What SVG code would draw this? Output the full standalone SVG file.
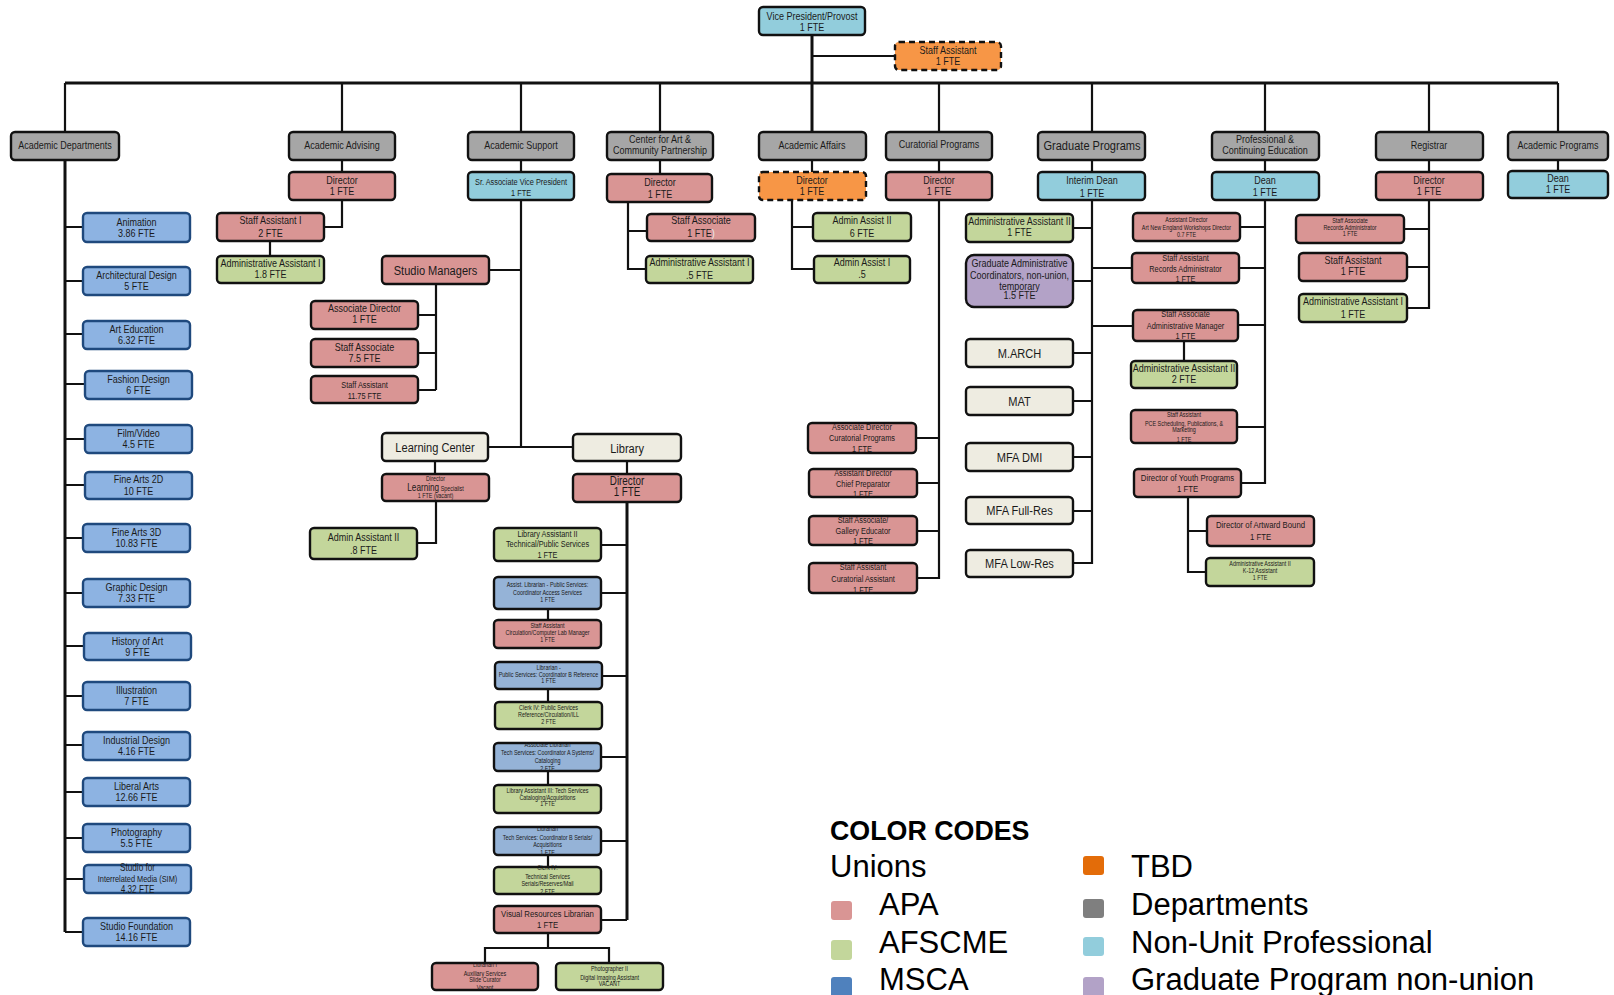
<svg xmlns="http://www.w3.org/2000/svg" width="1614" height="995" viewBox="0 0 1614 995">
<style>
.n rect{stroke:#111;stroke-width:2.4}
.gray{fill:#A6A6A6}.apa{fill:#D99594}.afs{fill:#C3D69B}.msca{fill:#8DB3E2;stroke:#1F497D !important}
.msca2{fill:#95B3D7}.nup{fill:#92CDDC}.tbd{fill:#F79646;stroke-dasharray:6 4}.grad{fill:#B3A2C7}.cream{fill:#EEECE1}
.n text{font-family:"Liberation Sans",Arial,sans-serif;text-anchor:middle;fill:#1a1a1a;transform-box:fill-box;transform-origin:center;transform:scaleX(.82)}
.f11{font-size:11px}.f10{font-size:10px}.f9{font-size:9px}.f95{font-size:9.5px}.f7{font-size:6.6px}.f65{font-size:6.6px}.f12{font-size:12px}.f13{font-size:13.5px}
.lg{font-family:"Liberation Sans",Arial,sans-serif;fill:#000}
.li{font-size:31px}
</style>
<rect width="1614" height="995" fill="#fff"/>
<g id="connectors" fill="none" stroke="#111" stroke-width="2.2">
<path stroke-width="3" d="M812 35V132M65 83H1558M65 160V932M627 502V920"/>
<path d="M812 56H895M65 83V132M342 83V132M521 83V132M660 83V132M939 83V132M1092 83V132M1265 83V132M1429 83V132M1558 83V132"/>
<path d="M342 160V172M521 160V172M660 160V174M812 160V172M939 160V172M1092 160V172M1265 160V172M1429 160V172M1558 160V171"/>
<path d="M65 227H83M65 281H83M65 334H83M65 384H85M65 439H85M65 485H85M65 538H83M65 593H83M65 646H84M65 696H83M65 745H83M65 792H83M65 838H83M65 879H84M65 932H83"/>
<path d="M342 200V227H324M270 241V256"/>
<path d="M521 200V447M489 270H521M436 284V390M436 315H418M436 353H418M436 390H418M488 447H573M435 461V474M436 501V543H417"/>
<path d="M627 461V474M627 545H601M627 593H601M627 676H602M627 757H601M627 841H601M627 920H601M548 609V620M548 689V702M548 771V785M548 855V867M548 933V948M485 963V948H609V963"/>
<path d="M628 202V269H646M628 231H647"/>
<path d="M792 200V269H814M792 227H813"/>
<path d="M939 200V578H917M939 438H916M939 483H917M939 531H917"/>
<path d="M1092 200V563H1073M1092 228H1073M1092 281H1073M1092 353H1073M1092 401H1073M1092 457H1073M1092 511H1073M1092 268H1132M1092 326H1133"/>
<path d="M1265 200V483H1241M1265 227H1240M1265 268H1239M1265 325H1238M1265 427H1237M1184 341V361M1188 497V572H1206M1188 531H1207"/>
<path d="M1429 200V308H1407M1429 229H1404M1429 267H1407"/>
</g>

<g id="vp" class="n"><rect class="nup" x="759" y="7" width="106" height="28" rx="4"/><text class="f11"><tspan x="812" y="20">Vice President/Provost</tspan><tspan x="812" y="31">1 FTE</tspan></text></g>
<g id="vp-staff-assistant" class="n"><rect class="tbd" x="895" y="42" width="106" height="28" rx="4"/><text class="f11"><tspan x="948" y="54">Staff Assistant</tspan><tspan x="948" y="65">1 FTE</tspan></text></g>

<g id="h-acad-dept" class="n"><rect class="gray" x="11" y="132" width="108" height="28" rx="4"/><text class="f11" x="65" y="149">Academic Departments</text></g>
<g id="h-advising" class="n"><rect class="gray" x="289" y="132" width="106" height="28" rx="4"/><text class="f11" x="342" y="149">Academic Advising</text></g>
<g id="h-support" class="n"><rect class="gray" x="468" y="132" width="106" height="28" rx="4"/><text class="f11" x="521" y="149">Academic Support</text></g>
<g id="h-cap" class="n"><rect class="gray" x="607" y="132" width="106" height="28" rx="4"/><text class="f11"><tspan x="660" y="143">Center for Art &amp;</tspan><tspan x="660" y="154">Community Partnership</tspan></text></g>
<g id="h-affairs" class="n"><rect class="gray" x="759" y="132" width="107" height="28" rx="4"/><text class="f11" x="812" y="149">Academic Affairs</text></g>
<g id="h-curatorial" class="n"><rect class="gray" x="886" y="132" width="106" height="28" rx="4"/><text class="f11" x="939" y="148">Curatorial Programs</text></g>
<g id="h-graduate" class="n"><rect class="gray" x="1038" y="132" width="107" height="28" rx="4"/><text class="f13" x="1092" y="150">Graduate Programs</text></g>
<g id="h-pce" class="n"><rect class="gray" x="1212" y="132" width="107" height="28" rx="4"/><text class="f11"><tspan x="1265" y="143">Professional &amp;</tspan><tspan x="1265" y="154">Continuing Education</tspan></text></g>
<g id="h-registrar" class="n"><rect class="gray" x="1376" y="132" width="107" height="28" rx="4"/><text class="f11" x="1429" y="149">Registrar</text></g>
<g id="h-acad-prog" class="n"><rect class="gray" x="1508" y="132" width="100" height="28" rx="4"/><text class="f11" x="1558" y="149">Academic Programs</text></g>

<g id="adv-director" class="n"><rect class="apa" x="289" y="172" width="106" height="28" rx="4"/><text class="f11"><tspan x="342" y="184">Director</tspan><tspan x="342" y="195">1 FTE</tspan></text></g>
<g id="sup-sr-avp" class="n"><rect class="nup" x="468" y="172" width="106" height="28" rx="4"/><text class="f9"><tspan x="521" y="185">Sr. Associate Vice President</tspan><tspan x="521" y="196">1 FTE</tspan></text></g>
<g id="cap-director" class="n"><rect class="apa" x="607" y="174" width="105" height="28" rx="4"/><text class="f11"><tspan x="660" y="186">Director</tspan><tspan x="660" y="198">1 FTE</tspan></text></g>
<g id="aff-director" class="n"><rect class="tbd" x="759" y="172" width="107" height="28" rx="4"/><text class="f11"><tspan x="812" y="184">Director</tspan><tspan x="812" y="195">1 FTE</tspan></text></g>
<g id="cur-director" class="n"><rect class="apa" x="886" y="172" width="106" height="28" rx="4"/><text class="f11"><tspan x="939" y="184">Director</tspan><tspan x="939" y="195">1 FTE</tspan></text></g>
<g id="grad-dean" class="n"><rect class="nup" x="1038" y="172" width="107" height="28" rx="4"/><text class="f11"><tspan x="1092" y="184">Interim Dean</tspan><tspan x="1092" y="197">1 FTE</tspan></text></g>
<g id="pce-dean" class="n"><rect class="nup" x="1212" y="172" width="107" height="28" rx="4"/><text class="f11"><tspan x="1265" y="184">Dean</tspan><tspan x="1265" y="196">1 FTE</tspan></text></g>
<g id="reg-director" class="n"><rect class="apa" x="1376" y="172" width="107" height="28" rx="4"/><text class="f11"><tspan x="1429" y="184">Director</tspan><tspan x="1429" y="195">1 FTE</tspan></text></g>
<g id="ap-dean" class="n"><rect class="nup" x="1508" y="171" width="100" height="27" rx="4"/><text class="f11"><tspan x="1558" y="182">Dean</tspan><tspan x="1558" y="193">1 FTE</tspan></text></g>

<g id="dept-animation" class="n"><rect class="msca" x="83" y="213" width="107" height="29" rx="4"/><text class="f11"><tspan x="136.5" y="226">Animation</tspan><tspan x="136.5" y="237">3.86 FTE</tspan></text></g>
<g id="dept-arch" class="n"><rect class="msca" x="83" y="267" width="107" height="28" rx="4"/><text class="f11"><tspan x="136.5" y="279">Architectural Design</tspan><tspan x="136.5" y="290">5 FTE</tspan></text></g>
<g id="dept-arted" class="n"><rect class="msca" x="83" y="321" width="107" height="28" rx="4"/><text class="f11"><tspan x="136.5" y="333">Art Education</tspan><tspan x="136.5" y="344">6.32 FTE</tspan></text></g>
<g id="dept-fashion" class="n"><rect class="msca" x="85" y="371" width="107" height="28" rx="4"/><text class="f11"><tspan x="138.5" y="383">Fashion Design</tspan><tspan x="138.5" y="394">6 FTE</tspan></text></g>
<g id="dept-film" class="n"><rect class="msca" x="85" y="425" width="107" height="28" rx="4"/><text class="f11"><tspan x="138.5" y="437">Film/Video</tspan><tspan x="138.5" y="448">4.5 FTE</tspan></text></g>
<g id="dept-fa2d" class="n"><rect class="msca" x="85" y="472" width="107" height="27" rx="4"/><text class="f11"><tspan x="138.5" y="483">Fine Arts 2D</tspan><tspan x="138.5" y="495">10 FTE</tspan></text></g>
<g id="dept-fa3d" class="n"><rect class="msca" x="83" y="524" width="107" height="28" rx="4"/><text class="f11"><tspan x="136.5" y="536">Fine Arts 3D</tspan><tspan x="136.5" y="547">10.83 FTE</tspan></text></g>
<g id="dept-graphic" class="n"><rect class="msca" x="83" y="579" width="107" height="28" rx="4"/><text class="f11"><tspan x="136.5" y="591">Graphic Design</tspan><tspan x="136.5" y="602">7.33 FTE</tspan></text></g>
<g id="dept-history" class="n"><rect class="msca" x="84" y="633" width="107" height="27" rx="4"/><text class="f11"><tspan x="137.5" y="645">History of Art</tspan><tspan x="137.5" y="656">9 FTE</tspan></text></g>
<g id="dept-illustration" class="n"><rect class="msca" x="83" y="682" width="107" height="28" rx="4"/><text class="f11"><tspan x="136.5" y="694">Illustration</tspan><tspan x="136.5" y="705">7 FTE</tspan></text></g>
<g id="dept-industrial" class="n"><rect class="msca" x="83" y="732" width="107" height="28" rx="4"/><text class="f11"><tspan x="136.5" y="744">Industrial Design</tspan><tspan x="136.5" y="755">4.16 FTE</tspan></text></g>
<g id="dept-liberal" class="n"><rect class="msca" x="83" y="778" width="107" height="28" rx="4"/><text class="f11"><tspan x="136.5" y="790">Liberal Arts</tspan><tspan x="136.5" y="801">12.66 FTE</tspan></text></g>
<g id="dept-photo" class="n"><rect class="msca" x="83" y="824" width="107" height="28" rx="4"/><text class="f11"><tspan x="136.5" y="836">Photography</tspan><tspan x="136.5" y="847">5.5 FTE</tspan></text></g>
<g id="dept-sim" class="n"><rect class="msca" x="84" y="865" width="107" height="28" rx="4"/><text class="f9"><tspan x="137.5" y="871" font-size="10">Studio for</tspan><tspan x="137.5" y="882">Interrelated Media (SIM)</tspan><tspan x="137.5" y="893" font-size="10">4.32 FTE</tspan></text></g>
<g id="dept-foundation" class="n"><rect class="msca" x="83" y="918" width="107" height="28" rx="4"/><text class="f11"><tspan x="136.5" y="930">Studio Foundation</tspan><tspan x="136.5" y="941">14.16 FTE</tspan></text></g>

<g id="adv-staff-asst" class="n"><rect class="apa" x="217" y="213" width="107" height="28" rx="4"/><text class="f11"><tspan x="270.5" y="224">Staff Assistant I</tspan><tspan x="270.5" y="237">2 FTE</tspan></text></g>
<g id="adv-admin-asst" class="n"><rect class="afs" x="217" y="256" width="107" height="27" rx="4"/><text class="f11"><tspan x="270.5" y="267">Administrative Assistant I</tspan><tspan x="270.5" y="278">1.8 FTE</tspan></text></g>

<g id="sup-studio-managers" class="n"><rect class="apa" x="382" y="256" width="107" height="28" rx="4"/><text class="f13" x="435.5" y="275">Studio Managers</text></g>
<g id="sm-assoc-dir" class="n"><rect class="apa" x="311" y="301" width="107" height="28" rx="4"/><text class="f11"><tspan x="364.5" y="312">Associate Director</tspan><tspan x="364.5" y="323">1 FTE</tspan></text></g>
<g id="sm-staff-assoc" class="n"><rect class="apa" x="311" y="339" width="107" height="28" rx="4"/><text class="f11"><tspan x="364.5" y="351">Staff Associate</tspan><tspan x="364.5" y="362">7.5 FTE</tspan></text></g>
<g id="sm-staff-asst" class="n"><rect class="apa" x="311" y="376" width="107" height="27" rx="4"/><text class="f9"><tspan x="364.5" y="388">Staff Assistant</tspan><tspan x="364.5" y="399">11.75 FTE</tspan></text></g>
<g id="sup-learning-center" class="n"><rect class="cream" x="382" y="433" width="106" height="28" rx="4"/><text class="f13" x="435" y="452">Learning Center</text></g>
<g id="lc-director" class="n"><rect class="apa" x="382" y="474" width="107" height="27" rx="4"/><text class="f7"><tspan x="435.5" y="481">Director</tspan><tspan x="435.5" y="491"><tspan font-size="10">Learning</tspan> Specialist</tspan><tspan x="435.5" y="498">1 FTE (vacant)</tspan></text></g>
<g id="lc-admin-asst" class="n"><rect class="afs" x="310" y="528" width="107" height="31" rx="4"/><text class="f11"><tspan x="363.5" y="541">Admin Assistant II</tspan><tspan x="363.5" y="554">.8 FTE</tspan></text></g>

<g id="sup-library" class="n"><rect class="cream" x="573" y="434" width="108" height="27" rx="4"/><text class="f13" x="627" y="453">Library</text></g>
<g id="lib-director" class="n"><rect class="apa" x="573" y="474" width="108" height="28" rx="4"/><text class="f12"><tspan x="627" y="485">Director</tspan><tspan x="627" y="496">1 FTE</tspan></text></g>
<g id="lib-asst-2" class="n"><rect class="afs" x="494" y="528" width="107" height="33" rx="4"/><text class="f9"><tspan x="547.5" y="537">Library Assistant II</tspan><tspan x="547.5" y="547">Technical/Public Services</tspan><tspan x="547.5" y="558">1 FTE</tspan></text></g>
<g id="lib-assist-librarian" class="n"><rect class="msca2" x="494" y="577" width="107" height="32" rx="4"/><text class="f7"><tspan x="547.5" y="587">Assist. Librarian - Public Services:</tspan><tspan x="547.5" y="595">Coordinator Access Services</tspan><tspan x="547.5" y="602">1 FTE</tspan></text></g>
<g id="lib-circ-staff" class="n"><rect class="apa" x="494" y="620" width="107" height="28" rx="4"/><text class="f7"><tspan x="547.5" y="628">Staff Assistant</tspan><tspan x="547.5" y="635">Circulation/Computer Lab Manager</tspan><tspan x="547.5" y="642">1 FTE</tspan></text></g>
<g id="lib-ref-librarian" class="n"><rect class="msca2" x="495" y="662" width="107" height="27" rx="4"/><text class="f7"><tspan x="548.5" y="670">Librarian -</tspan><tspan x="548.5" y="677">Public Services: Coordinator B Reference</tspan><tspan x="548.5" y="683">1 FTE</tspan></text></g>
<g id="lib-clerk-public" class="n"><rect class="afs" x="495" y="702" width="107" height="27" rx="4"/><text class="f7"><tspan x="548.5" y="710">Clerk IV: Public Services</tspan><tspan x="548.5" y="717">Reference/Circulation/ILL</tspan><tspan x="548.5" y="724">2 FTE</tspan></text></g>
<g id="lib-assoc-librarian" class="n"><rect class="msca2" x="494" y="743" width="107" height="28" rx="4"/><text class="f7"><tspan x="547.5" y="747">Associate Librarian</tspan><tspan x="547.5" y="755">Tech Services: Coordinator A Systems/</tspan><tspan x="547.5" y="763">Cataloging</tspan><tspan x="547.5" y="771">2 FTE</tspan></text></g>
<g id="lib-asst-3" class="n"><rect class="afs" x="494" y="785" width="107" height="28" rx="4"/><text class="f7"><tspan x="547.5" y="793">Library Assistant III: Tech Services</tspan><tspan x="547.5" y="800">Cataloging/Acquisitions</tspan><tspan x="547.5" y="806">1 FTE</tspan></text></g>
<g id="lib-serials-librarian" class="n"><rect class="msca2" x="494" y="827" width="107" height="28" rx="4"/><text class="f7"><tspan x="547.5" y="831">Librarian</tspan><tspan x="547.5" y="840">Tech Services: Coordinator B Serials/</tspan><tspan x="547.5" y="847">Acquisitions</tspan><tspan x="547.5" y="855">1 FTE</tspan></text></g>
<g id="lib-clerk-tech" class="n"><rect class="afs" x="494" y="867" width="107" height="27" rx="4"/><text class="f7"><tspan x="547.5" y="870">Clerk IV:</tspan><tspan x="547.5" y="879">Technical Services</tspan><tspan x="547.5" y="886">Serials/Reserves/Mail</tspan><tspan x="547.5" y="894">2 FTE</tspan></text></g>
<g id="lib-visual-resources" class="n"><rect class="apa" x="494" y="906" width="107" height="27" rx="4"/><text class="f95"><tspan x="547.5" y="917">Visual Resources Librarian</tspan><tspan x="547.5" y="928">1 FTE</tspan></text></g>
<g id="lib-librarian-1" class="n"><rect class="apa" x="432" y="963" width="106" height="27" rx="4"/><text class="f7"><tspan x="485" y="967">Librarian I</tspan><tspan x="485" y="976">Auxiliary Services</tspan><tspan x="485" y="982">Slide Curator</tspan><tspan x="485" y="990">Vacant</tspan></text></g>
<g id="lib-photographer" class="n"><rect class="afs" x="556" y="963" width="107" height="27" rx="4"/><text class="f7"><tspan x="609.5" y="971">Photographer II</tspan><tspan x="609.5" y="980">Digital Imaging Assistant</tspan><tspan x="609.5" y="986">VACANT</tspan></text></g>

<g id="cap-staff-assoc" class="n"><rect class="apa" x="647" y="214" width="108" height="27" rx="4"/><text class="f11"><tspan x="701" y="224">Staff Associate</tspan><tspan x="701" y="237">1 FTE<tspan fill="#eeeeee">)</tspan></tspan></text></g>
<g id="cap-admin-asst" class="n"><rect class="afs" x="646" y="256" width="107" height="27" rx="4"/><text class="f11"><tspan x="699.5" y="266">Administrative Assistant I</tspan><tspan x="699.5" y="279">.5 FTE</tspan></text></g>

<g id="aff-admin-2" class="n"><rect class="afs" x="813" y="213" width="98" height="28" rx="4"/><text class="f11"><tspan x="862" y="224">Admin Assist  II</tspan><tspan x="862" y="237">6 FTE</tspan></text></g>
<g id="aff-admin-1" class="n"><rect class="afs" x="814" y="256" width="96" height="27" rx="4"/><text class="f11"><tspan x="862" y="266">Admin Assist I</tspan><tspan x="862" y="278">.5</tspan></text></g>

<g id="cur-assoc-dir" class="n"><rect class="apa" x="808" y="423" width="108" height="30" rx="4"/><text class="f9"><tspan x="862" y="430">Associate Director</tspan><tspan x="862" y="441">Curatorial Programs</tspan><tspan x="862" y="452">1 FTE</tspan></text></g>
<g id="cur-asst-dir" class="n"><rect class="apa" x="809" y="469" width="108" height="28" rx="4"/><text class="f9"><tspan x="863" y="476">Assistant Director</tspan><tspan x="863" y="487">Chief Preparator</tspan><tspan x="863" y="497">1 FTE</tspan></text></g>
<g id="cur-staff-assoc" class="n"><rect class="apa" x="809" y="516" width="108" height="29" rx="4"/><text class="f9"><tspan x="863" y="523">Staff Associate/</tspan><tspan x="863" y="534">Gallery Educator</tspan><tspan x="863" y="544">1 FTE</tspan></text></g>
<g id="cur-staff-asst" class="n"><rect class="apa" x="809" y="563" width="108" height="30" rx="4"/><text class="f9"><tspan x="863" y="570">Staff Assistant</tspan><tspan x="863" y="582">Curatorial Assistant</tspan><tspan x="863" y="593">1 FTE</tspan></text></g>

<g id="grad-admin-2" class="n"><rect class="afs" x="966" y="214" width="107" height="28" rx="4"/><text class="f11"><tspan x="1019.5" y="225">Administrative Assistant II</tspan><tspan x="1019.5" y="236">1 FTE</tspan></text></g>
<g id="grad-coordinators" class="n"><rect class="grad" x="966" y="255" width="107" height="52" rx="8"/><text class="f11"><tspan x="1019.5" y="267">Graduate Administrative</tspan><tspan x="1019.5" y="279">Coordinators, non-union,</tspan><tspan x="1019.5" y="290">temporary</tspan><tspan x="1019.5" y="299">1.5 FTE</tspan></text></g>
<g id="grad-march" class="n"><rect class="cream" x="966" y="339" width="107" height="28" rx="4"/><text class="f13" x="1019.5" y="358">M.ARCH</text></g>
<g id="grad-mat" class="n"><rect class="cream" x="966" y="387" width="107" height="28" rx="4"/><text class="f13" x="1019.5" y="406">MAT</text></g>
<g id="grad-mfa-dmi" class="n"><rect class="cream" x="966" y="443" width="107" height="28" rx="4"/><text class="f13" x="1019.5" y="462">MFA DMI</text></g>
<g id="grad-mfa-full" class="n"><rect class="cream" x="966" y="497" width="107" height="27" rx="4"/><text class="f13" x="1019.5" y="515">MFA Full-Res</text></g>
<g id="grad-mfa-low" class="n"><rect class="cream" x="966" y="550" width="107" height="27" rx="4"/><text class="f13" x="1019.5" y="568">MFA Low-Res</text></g>

<g id="pce-asst-dir" class="n"><rect class="apa" x="1133" y="213" width="107" height="28" rx="4"/><text class="f65"><tspan x="1186.5" y="222">Assistant Director</tspan><tspan x="1186.5" y="230">Art New England  Workshops Director</tspan><tspan x="1186.5" y="237">0.7 FTE</tspan></text></g>
<g id="pce-records" class="n"><rect class="apa" x="1132" y="253" width="107" height="30" rx="4"/><text class="f9"><tspan x="1185.5" y="261">Staff Assistant</tspan><tspan x="1185.5" y="272">Records Administrator</tspan><tspan x="1185.5" y="282">1 FTE</tspan></text></g>
<g id="pce-admin-mgr" class="n"><rect class="apa" x="1133" y="310" width="105" height="31" rx="4"/><text class="f9"><tspan x="1185.5" y="317">Staff Associate</tspan><tspan x="1185.5" y="329">Administrative Manager</tspan><tspan x="1185.5" y="339">1 FTE</tspan></text></g>
<g id="pce-admin-2" class="n"><rect class="afs" x="1131" y="361" width="106" height="27" rx="4"/><text class="f11"><tspan x="1184" y="372">Administrative Assistant II</tspan><tspan x="1184" y="383">2 FTE</tspan></text></g>
<g id="pce-scheduling" class="n"><rect class="apa" x="1131" y="410" width="106" height="33" rx="4"/><text class="f65"><tspan x="1184" y="417">Staff Assistant</tspan><tspan x="1184" y="426">PCE Scheduling, Publications, &amp;</tspan><tspan x="1184" y="432">Marketing</tspan><tspan x="1184" y="442">1 FTE</tspan></text></g>
<g id="pce-youth" class="n"><rect class="apa" x="1134" y="469" width="107" height="28" rx="4"/><text class="f95"><tspan x="1187.5" y="481">Director of Youth Programs</tspan><tspan x="1187.5" y="492">1 FTE</tspan></text></g>
<g id="pce-artward" class="n"><rect class="apa" x="1207" y="516" width="107" height="30" rx="4"/><text class="f95"><tspan x="1260.5" y="528">Director of Artward Bound</tspan><tspan x="1260.5" y="540">1 FTE</tspan></text></g>
<g id="pce-k12" class="n"><rect class="afs" x="1206" y="558" width="108" height="28" rx="4"/><text class="f65"><tspan x="1260" y="566">Administrative Assistant II</tspan><tspan x="1260" y="573">K-12 Assistant</tspan><tspan x="1260" y="580">1 FTE</tspan></text></g>

<g id="reg-staff-assoc" class="n"><rect class="apa" x="1296" y="215" width="108" height="28" rx="4"/><text class="f65"><tspan x="1350" y="223">Staff Associate</tspan><tspan x="1350" y="230">Records Administrator</tspan><tspan x="1350" y="236">1 FTE</tspan></text></g>
<g id="reg-staff-asst" class="n"><rect class="apa" x="1299" y="253" width="108" height="28" rx="4"/><text class="f11"><tspan x="1353" y="264">Staff Assistant</tspan><tspan x="1353" y="275">1 FTE</tspan></text></g>
<g id="reg-admin-1" class="n"><rect class="afs" x="1299" y="294" width="108" height="28" rx="4"/><text class="f11"><tspan x="1353" y="305">Administrative Assistant I</tspan><tspan x="1353" y="318">1 FTE</tspan></text></g>

<g id="legend">
<text class="lg" x="830" y="840" font-size="26.8" font-weight="bold">COLOR CODES</text>
<text class="lg li" x="830" y="877">Unions</text>
<rect x="831" y="901" width="21" height="19" rx="3" fill="#D99594"/>
<rect x="831" y="940" width="21" height="20" rx="3" fill="#C3D69B"/>
<rect x="831" y="977" width="21" height="20" rx="3" fill="#4F81BD"/>
<text class="lg li" x="879" y="915">APA</text>
<text class="lg li" x="879" y="953">AFSCME</text>
<text class="lg li" x="879" y="990">MSCA</text>
<rect x="1083" y="856" width="21" height="19" rx="3" fill="#E36C09"/>
<rect x="1083" y="899" width="21" height="19" rx="3" fill="#7F7F7F"/>
<rect x="1083" y="937" width="21" height="19" rx="3" fill="#92CDDC"/>
<rect x="1083" y="977" width="21" height="20" rx="3" fill="#B2A2C7"/>
<text class="lg li" x="1131" y="877">TBD</text>
<text class="lg li" x="1131" y="915">Departments</text>
<text class="lg li" x="1131" y="953">Non-Unit Professional</text>
<text class="lg li" x="1131" y="990">Graduate Program non-union</text>
</g>
</svg>
